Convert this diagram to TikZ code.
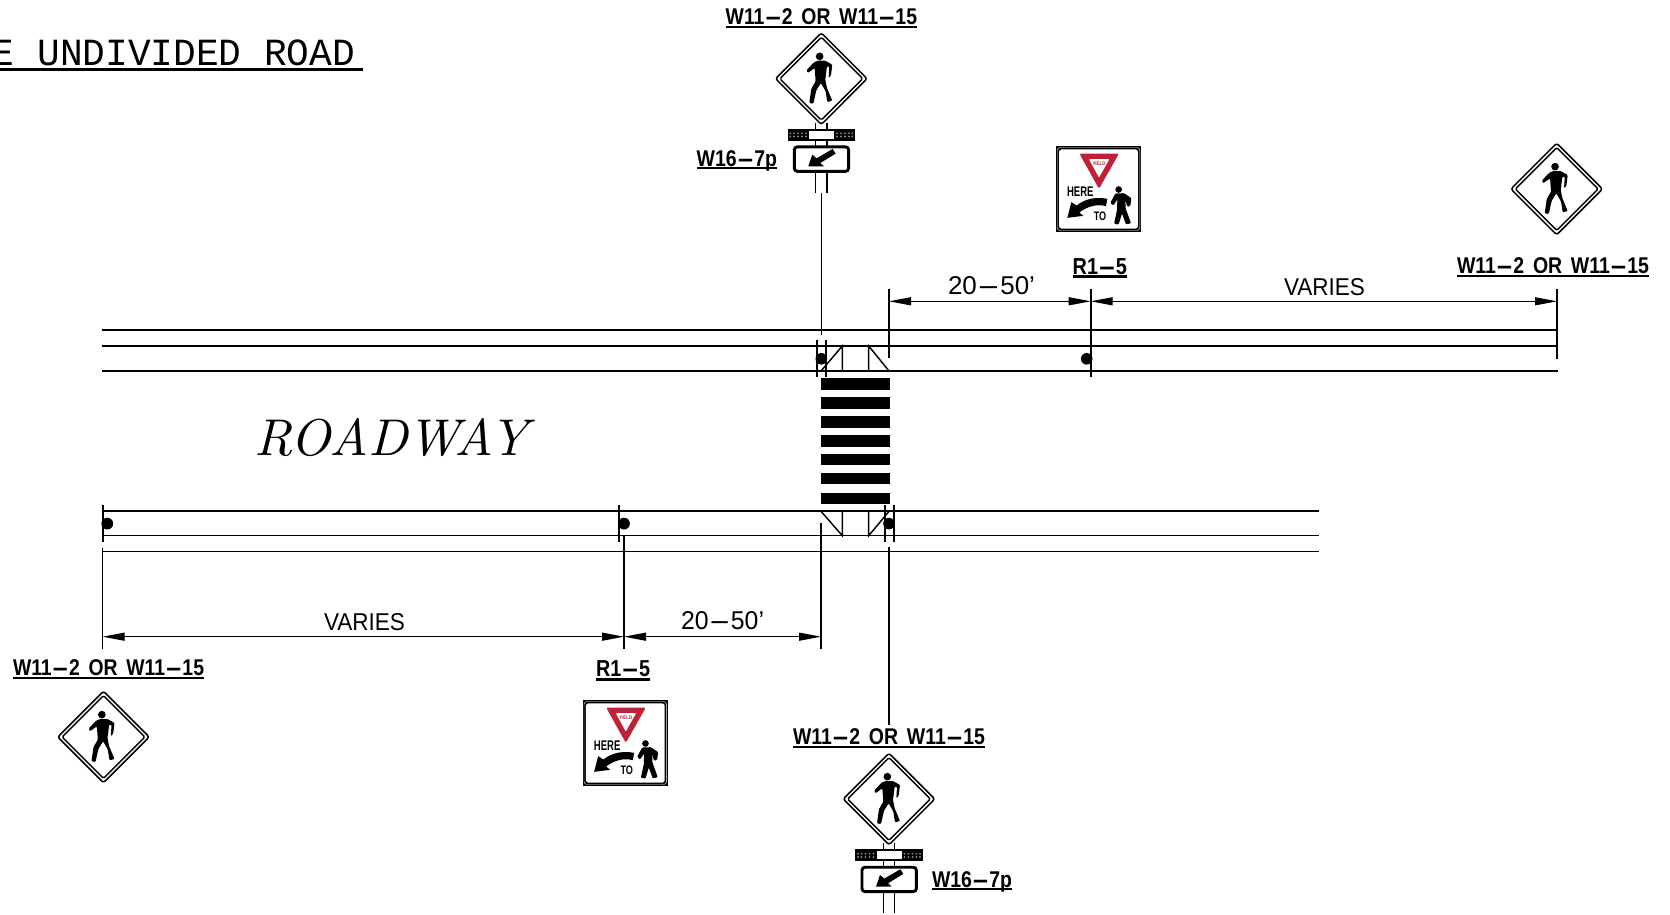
\documentclass[tikz,border=0pt]{standalone}
\usepackage{fontspec}
\usepackage{graphicx}
\setsansfont{Liberation Sans}
\setmonofont{Liberation Mono}
\usetikzlibrary{arrows.meta}
\definecolor{yieldred}{HTML}{BE2238}
\newcommand\widedash{\scalebox{2.7}[1]{-}}
\newcommand\wordgap{\hspace{.45em}}
\newcommand\lblbold[3]{\resizebox{#1pt}{#2pt}{\sffamily\bfseries #3}}
\newcommand\lblthin[3]{\resizebox{#1pt}{#2pt}{\sffamily #3}}
\tikzset{
  base/.style={x=1pt,y=-1pt},
  thinline/.style={line width=1.05pt},
  midline/.style={line width=1.45pt},
  thickline/.style={line width=2.2pt},
  tickline/.style={line width=1.8pt},
  dimline/.style={line width=1.1pt,{Triangle[length=22pt,width=8pt]}-{Triangle[length=22pt,width=8pt]}},
  extline/.style={line width=1.3pt},
  stripe/.style={fill=black,draw=none},
  txt/.style={inner sep=0pt,outer sep=0pt,anchor=base west},
  ul/.style={line width=2.5pt},
  pedestrian/.pic={
    \begin{scope}[scale=1/3]
      \fill (-5,-67) circle (11.5);
      \fill[rounded corners=1pt] (-22,-49) -- (-44,-26) -- (-41,-17) -- (-20,-32) -- (-17,8) -- (-30,30) -- (-36,73) -- (-24,75) -- (-15,35) -- (-1,13) -- (13,38) -- (18,70) -- (33,66) -- (17,28) -- (12,3) -- (17,-37) -- (24,-37) -- (22,-2) -- (29,-10) -- (33,-42) -- (12,-54) -- (-10,-54) -- cycle;
    \end{scope}
  },
  diamondsign/.pic={
    \draw[line width=1.5pt,rounded corners=2.5pt,fill=white] (0,-45.8) -- (45.8,0) -- (0,45.8) -- (-45.8,0) -- cycle;
    \draw[line width=1.4pt,rounded corners=1.5pt] (0,-41.4) -- (41.4,0) -- (0,41.4) -- (-41.4,0) -- cycle;
    \pic at (0,0) {pedestrian};
  },
  assembly/.pic={
    \draw[line width=1.3pt] (-5.6,44) -- (-5.6,114.3) (5.7,44) -- (5.7,114.3);
    \pic at (0,0) {diamondsign};
    \fill (-33.8,50) rectangle (33.8,62.3);
    \fill[white] (-12.5,52) rectangle (12.5,60.3);
    \foreach \sx in {-1,1}{
      \foreach \dx in {15.5,19.5,23.5,27.5,31}{
        \draw[gray!55,line width=.25pt] (\sx*\dx,54.6) circle (.8) (\sx*\dx,57.8) circle (.8);
      }
    }
    \draw[line width=2.9pt,rounded corners=3pt,fill=white] (-27,68.2) rectangle (27.3,92.6);
    \begin{scope}[shift={(0,80.6)},scale=1/3]
      \fill (-39,21) -- (-27,-14) -- (-14,-3) -- (34,-31) -- (43,-17) -- (-3,11) -- (8,21) -- cycle;
    \end{scope}
  },
  yieldsign/.pic={
    \fill (-42.6,-42.8) rectangle (42.6,42.8);
    \draw[white,line width=.4pt,rounded corners=3pt] (-41.3,-41.5) rectangle (41.3,41.5);
    \fill[white,rounded corners=2.5pt] (-39.4,-39.6) rectangle (39.4,39.6);
    \begin{scope}[scale=1/3,shift={(-175.5,-176.5)}]
      \fill[yieldred,rounded corners=2pt] (118,70) -- (237,70) -- (177,176) -- cycle;
      \fill[white,rounded corners=.8pt] (147,87) -- (208,87) -- (177,142) -- cycle;
      \node[inner sep=0pt,yieldred] (yw#1) at (177,100) {\resizebox{13pt}{3.6pt}{\sffamily\bfseries YIELD}};
      \node[inner sep=0pt] (he#1) at (121,186) {\resizebox{26.5pt}{9.6pt}{\sffamily\bfseries HERE}};
      \node[inner sep=0pt] (to#1) at (180,258) {\resizebox{12.5pt}{8.6pt}{\sffamily\bfseries TO}};
      \fill (202,206) .. controls (160,198) and (130,210) .. (110,226) -- (94,216) -- (82,263) -- (130,257) -- (118,247) .. controls (140,230) and (170,220) .. (198,228) -- cycle;
      \fill (236,178) circle (10);
      \fill[rounded corners=1pt] (226,190) -- (211,218) -- (220,226) -- (232,208) -- (231,240) -- (222,281) -- (236,283) -- (246,250) -- (258,283) -- (273,279) -- (257,235) -- (256,210) -- (262,230) -- (271,227) -- (274,204) -- (252,189) -- cycle;
    \end{scope}
  },
}
\begin{document}
\begin{tikzpicture}[base]
\useasboundingbox (0,0) rectangle (1670,915);
\clip (0,0) rectangle (1670,915);

% named reference points
\coordinate (TL) at (102,330);
\coordinate (TR) at (1557,330);
\coordinate (ML) at (102,346);
\coordinate (MR) at (1557,346);
\coordinate (CL) at (102,370.8);
\coordinate (CR) at (1558,370.8);
\coordinate (BLa) at (102.7,511.3);
\coordinate (BRa) at (1318.5,511.3);
\coordinate (BLb) at (102.7,535.7);
\coordinate (BRb) at (1318.5,535.7);
\coordinate (BLc) at (102.7,551.7);
\coordinate (BRc) at (1318.5,551.7);

% title
\node[inner sep=0pt,outer sep=0pt,anchor=base east] (title) at (355,65.7) {\resizebox{363pt}{25.7pt}{\ttfamily E UNDIVIDED ROAD}};
\draw[line width=2.3pt] (-2,69.5) -- (363,69.5);

% roadway text
\node[txt] (roadway) at (254,455) {\resizebox{274pt}{37pt}{\itshape\addfontfeature{LetterSpace=18,Kerning=Off}ROADWAY}};

% road lines
\draw[thinline] (TL) -- (TR);
\draw[midline] (ML) -- (MR);
\draw[thickline] (CL) -- (CR);
\draw[thickline] (BLa) -- (BRa);
\draw[midline] (BLb) -- (BRb);
\draw[thinline] (BLc) -- (BRc);

% crosswalk
\foreach \y in {378.3,397.2,416.1,435,453.9,472.8,492.7}{
  \path[stripe] (820.5,\y) rectangle (890,\y+11.5);
}
% ramps
\draw[midline] (821,371) -- (842.3,346) -- (842.3,371);
\draw[midline] (868.7,371) -- (868.7,346) -- (889,371);
\draw[midline] (821,511.3) -- (842.3,535.7) -- (842.3,511.3);
\draw[midline] (868.7,511.3) -- (868.7,535.7) -- (889,511.3);

% post markers and dots
\draw[tickline] (816.7,340) -- (816.7,377) (825.7,340) -- (825.7,377);
\fill (821.3,358.8) circle (5.8);
\draw[tickline] (884.7,505) -- (884.7,542) (893.7,505) -- (893.7,542);
\fill (889,523.6) circle (5.8);
\fill (1086.7,358.8) circle (5.8);
\fill (107.3,523.6) circle (5.9);
\fill (624,523.6) circle (5.9);

% extension lines
\coordinate (E1a) at (889,289);
\coordinate (E1b) at (889,358);
\coordinate (E2a) at (1090.7,289);
\coordinate (E2b) at (1090.7,377);
\coordinate (E3a) at (1557,289);
\coordinate (E3b) at (1557,358.7);
\draw[extline] (E1a) -- (E1b);
\draw[tickline] (E2a) -- (E2b);
\draw[extline] (E3a) -- (E3b);
\draw[tickline] (102.7,505) -- (102.7,542);
\coordinate (E4a) at (102.7,547.7);
\coordinate (E4b) at (102.7,649);
\coordinate (E5a) at (624,535);
\coordinate (E5b) at (624,649);
\coordinate (E6a) at (821,523);
\coordinate (E6b) at (821,649);
\draw[extline] (E4a) -- (E4b);
\draw[tickline] (619.3,505) -- (619.3,542);
\draw[tickline] (E5a) -- (E5b);
\draw[extline] (E6a) -- (E6b);

% dimensions
\coordinate (D1) at (889,301.3);
\coordinate (D2) at (1090.7,301.3);
\coordinate (D3) at (1557,301.3);
\coordinate (D4) at (102.7,636.7);
\coordinate (D5) at (624,636.7);
\coordinate (D6) at (821,636.7);
\draw[dimline] (D1) -- (D2);
\draw[dimline] (D2) -- (D3);
\draw[dimline] (D4) -- (D5);
\draw[dimline] (D5) -- (D6);
\node[txt] (dimA) at (948,294.5) {\lblthin{87}{18}{20\widedash50'}};
\node[txt] (dimB) at (1284,295.5) {\lblthin{81}{17}{VARIES}};
\node[txt] (dimC) at (681,629) {\lblthin{83}{18}{20\widedash50'}};
\node[txt] (dimD) at (324,630.5) {\lblthin{81}{17}{VARIES}};

% sign assemblies
\coordinate (S1) at (821.3,193);
\coordinate (S1b) at (821.3,335);
\draw[line width=1.5pt] (S1) -- (S1b);
\coordinate (S2) at (889,547);
\coordinate (S2b) at (889,725);
\draw[line width=1.5pt] (S2) -- (S2b);
\pic at (821.3,78.7) {assembly};
\pic at (889,799) {assembly};
\pic at (1556.7,189) {diamondsign};
\pic at (103.5,737) {diamondsign};
\pic at (1098.5,189) {yieldsign={a}};
\pic at (625.3,743) {yieldsign={b}};

% labels
\newcommand\ulabel[6]{%
  \node[txt] (#1) at (#2,#3) {\lblbold{#4}{15.9}{#5}};
  \draw[ul] (#2,#3+#6) -- ++(#4,0);
}
\ulabel{lA}{725.7}{24.8}{191.3}{W11\widedash2\wordgap OR\wordgap W11\widedash15}{2.3}
\ulabel{lB}{1457}{273.5}{192}{W11\widedash2\wordgap OR\wordgap W11\widedash15}{2.3}
\ulabel{lC}{13}{675.5}{191}{W11\widedash2\wordgap OR\wordgap W11\widedash15}{2.3}
\ulabel{lD}{793}{744.5}{192}{W11\widedash2\wordgap OR\wordgap W11\widedash15}{2.3}
\ulabel{lE}{1072.7}{274}{54.3}{R1\widedash5}{2.6}
\ulabel{lF}{596}{676.7}{54}{R1\widedash5}{2.6}
\ulabel{lG}{696.7}{166}{80.3}{W16\widedash7p}{1.8}
\ulabel{lH}{932}{887}{80}{W16\widedash7p}{1.8}
\end{tikzpicture}
\end{document}
